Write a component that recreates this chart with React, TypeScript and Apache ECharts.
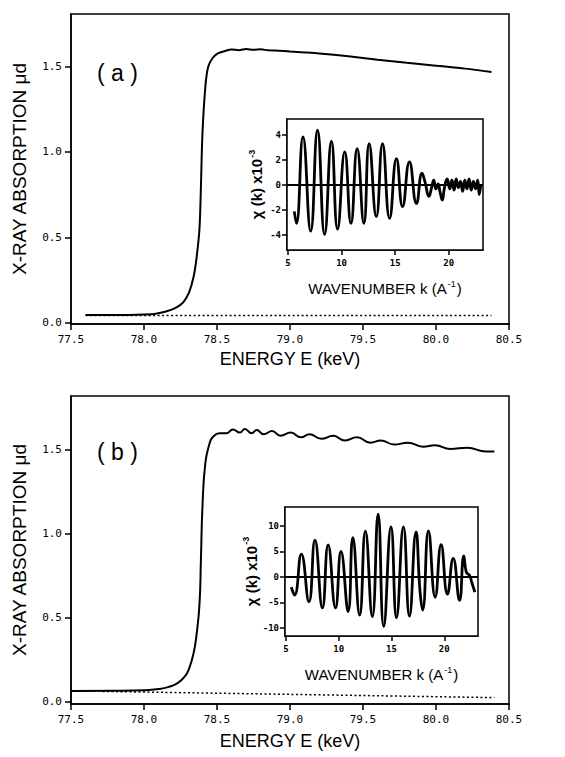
import React, { useEffect, useRef } from "react";
import * as echarts from "echarts";

// ---- Panel (a): main absorption spectrum ----
const energyA = [77.6, 77.8, 78.0, 78.08, 78.15, 78.22, 78.27, 78.31, 78.34, 78.36, 78.38, 78.39, 78.4, 78.42, 78.44, 78.47, 78.5, 78.55, 78.6, 78.65, 78.7, 78.75, 78.8, 78.85, 78.9, 79.0, 79.1, 79.2, 79.4, 79.6, 79.8, 80.0, 80.2, 80.38];
const muA = [0.045, 0.045, 0.048, 0.052, 0.065, 0.088, 0.12, 0.18, 0.27, 0.38, 0.55, 0.8, 1.1, 1.38, 1.5, 1.55, 1.575, 1.59, 1.6, 1.596, 1.603, 1.598, 1.601, 1.595, 1.594, 1.588, 1.583, 1.577, 1.56, 1.54, 1.522, 1.505, 1.488, 1.468];
const bgEnergyA = [77.6, 80.38];
const bgMuA = [0.042, 0.042];

// ---- Panel (b): main absorption spectrum ----
const energyB = [77.5, 77.8, 78.0, 78.1, 78.17, 78.23, 78.28, 78.31, 78.34, 78.36, 78.38, 78.39, 78.4, 78.42, 78.45, 78.47, 78.516, 78.563, 78.609, 78.656, 78.691, 78.737, 78.772, 78.819, 78.877, 78.935, 79.005, 79.075, 79.133, 79.214, 79.296, 79.377, 79.458, 79.551, 79.621, 79.714, 79.807, 79.912, 79.993, 80.098, 80.214, 80.342, 80.4];
const muB = [0.064, 0.065, 0.068, 0.075, 0.088, 0.11, 0.15, 0.2, 0.29, 0.4, 0.58, 0.85, 1.15, 1.42, 1.54, 1.574, 1.598, 1.598, 1.621, 1.602, 1.624, 1.598, 1.617, 1.592, 1.611, 1.583, 1.602, 1.574, 1.592, 1.565, 1.583, 1.555, 1.574, 1.542, 1.555, 1.531, 1.542, 1.518, 1.527, 1.505, 1.512, 1.49, 1.49];
const bgEnergyB = [77.5, 80.4];
const bgMuB = [0.064, 0.024];

// ---- Inset (a): EXAFS chi(k) x 10^-3 ----
const kA = [5.58, 5.78, 6.39, 7.11, 7.75, 8.41, 9.05, 9.62, 10.29, 10.87, 11.45, 12.08, 12.57, 13.24, 13.82, 14.48, 15.12, 15.69, 16.33, 16.99, 17.51, 17.8, 18.15, 18.4, 18.6, 18.8, 19.0, 19.2, 19.4, 19.6, 19.85, 20.1, 20.3, 20.5, 20.7, 20.9, 21.1, 21.3, 21.5, 21.7, 21.9, 22.1, 22.3, 22.5, 22.7, 22.85, 23.0];
const chiA = [-2.1, -3.07, 3.87, -3.68, 4.4, -3.95, 3.52, -3.52, 2.67, -3.07, 2.93, -3.07, 3.33, -2.53, 3.33, -2.67, 2.13, -1.73, 1.87, -1.47, 0.95, 0.2, -0.9, -0.2, 0.4, -0.3, 0.1, -0.6, -1.2, -0.2, 0.5, -0.3, 0.4, -0.4, 0.5, -0.2, 0.3, -0.5, 0.4, -0.3, 0.5, -0.4, 0.3, -0.3, 0.4, -0.75, 0.1];

// ---- Inset (b): EXAFS chi(k) x 10^-3 ----
const kB = [5.5, 5.81, 6.45, 7.17, 7.74, 8.45, 8.99, 9.69, 10.21, 10.89, 11.33, 11.98, 12.52, 13.18, 13.73, 14.26, 14.95, 15.47, 16.13, 16.7, 17.32, 17.7, 17.95, 18.5, 19.14, 19.7, 20.3, 20.85, 21.45, 21.85, 22.1, 22.4, 22.6, 22.9];
const chiB = [-2.0, -3.6, 4.45, -4.9, 7.2, -6.1, 6.26, -6.1, 4.97, -6.8, 7.7, -7.5, 8.97, -7.8, 12.3, -9.7, 9.8, -8.0, 9.8, -7.7, 8.8, -2.8, -6.5, 9.0, -4.0, 6.3, -3.4, 3.6, -4.6, 4.1, 0.9, 0.3, -1.0, -3.0];

// ---- Tick values ----
const mainYTicks = [0, 0.5, 1.0, 1.5];
const insetXTicks = [5, 10, 15, 20];
const insetAYTicks = [-4, -2, 0, 2, 4];
const insetBYTicks = [-10, -5, 0, 5, 10];

const zip = (xs: number[], ys: number[]) => xs.map((x, i) => [x, ys[i]]);

const MONO = "DejaVu Sans Mono";
const SANS = "Liberation Sans, Arial, sans-serif";

function mainXAxis(gridIndex: number, nameGap: number) {
  return {
    type: "value",
    gridIndex,
    min: 77.5,
    max: 80.5,
    interval: 0.5,
    axisLine: { show: true, onZero: false, lineStyle: { color: "#000", width: 1.5 } },
    axisTick: { show: true, inside: false, length: 6, lineStyle: { color: "#000", width: 1.5 } },
    axisLabel: {
      color: "#000",
      fontFamily: MONO,
      fontSize: 11,
      margin: 10,
      formatter: (v: number) => v.toFixed(1),
    },
    splitLine: { show: false },
    name: "ENERGY E (keV)",
    nameLocation: "middle",
    nameGap,
    nameTextStyle: { color: "#000", fontFamily: SANS, fontSize: 18 },
  };
}

function mainYAxis(gridIndex: number, min: number, max: number) {
  return {
    type: "value",
    gridIndex,
    min,
    max,
    axisLine: { show: true, onZero: false, lineStyle: { color: "#000", width: 1.5 } },
    axisTick: { show: true, inside: false, length: 6, customValues: mainYTicks, lineStyle: { color: "#000", width: 1.5 } },
    axisLabel: {
      color: "#000",
      fontFamily: MONO,
      fontSize: 11,
      margin: 9,
      customValues: mainYTicks,
      formatter: (v: number) => v.toFixed(1),
    },
    splitLine: { show: false },
    name: "X-RAY ABSORPTION μd",
    nameLocation: "middle",
    nameGap: 42,
    nameRotate: 90,
    nameTextStyle: { color: "#000", fontFamily: SANS, fontSize: 19 },
  };
}

function insetXAxis(gridIndex: number) {
  return {
    type: "value",
    gridIndex,
    min: 4.9,
    max: 23.2,
    axisLine: { show: true, onZero: false, lineStyle: { color: "#000", width: 1.5 } },
    axisTick: { show: true, inside: false, length: 5, customValues: insetXTicks, lineStyle: { color: "#000", width: 1.5 } },
    axisLabel: {
      color: "#000",
      fontFamily: MONO,
      fontSize: 9,
      fontWeight: "bold",
      margin: 8,
      customValues: insetXTicks,
    },
    splitLine: { show: false },
    name: "WAVENUMBER k (A{sup|-1})",
    nameLocation: "middle",
    nameGap: 29,
    nameTextStyle: {
      color: "#000",
      fontFamily: SANS,
      fontSize: 15,
      rich: { sup: { fontSize: 9, fontFamily: SANS, color: "#000", verticalAlign: "top", padding: [0, 1, 10, 1] } },
    },
  };
}

function insetYAxis(gridIndex: number, min: number, max: number, ticks: number[]) {
  return {
    type: "value",
    gridIndex,
    min,
    max,
    axisLine: { show: true, onZero: false, lineStyle: { color: "#000", width: 1.5 } },
    axisTick: { show: true, inside: false, length: 5, customValues: ticks, lineStyle: { color: "#000", width: 1.5 } },
    axisLabel: {
      color: "#000",
      fontFamily: MONO,
      fontSize: 9,
      fontWeight: "bold",
      margin: 6,
      customValues: ticks,
    },
    splitLine: { show: false },
    name: "χ (k) x10{sup|-3}",
    nameLocation: "middle",
    nameGap: 21,
    nameRotate: 90,
    nameTextStyle: {
      color: "#000",
      fontFamily: SANS,
      fontSize: 15,
      fontWeight: "bold",
      rich: { sup: { fontSize: 9, fontFamily: SANS, color: "#000", padding: [0, 0, 10, 1] } },
    },
  };
}

const zeroLine = {
  silent: true,
  symbol: ["none", "none"],
  label: { show: false },
  lineStyle: { color: "#000", width: 2.2, type: "solid" },
  data: [{ yAxis: 0 }],
};

export default function App() {
  const ref = useRef<HTMLDivElement>(null);

  useEffect(() => {
    document.body.style.margin = "0";
    if (!ref.current) return;
    const chart = echarts.init(ref.current, undefined, { renderer: "svg" });
    const gridBase = { show: true, borderColor: "#000", borderWidth: 1.5, backgroundColor: "#fff", containLabel: false };
    chart.setOption({
      animation: false,
      backgroundColor: "#fff",
      grid: [
        { ...gridBase, left: 71, top: 14, width: 438, height: 310 },
        { ...gridBase, left: 287, top: 119, width: 196, height: 131, z: 5 },
        { ...gridBase, left: 71, top: 396, width: 438, height: 308 },
        { ...gridBase, left: 285, top: 507, width: 193, height: 129, z: 5 },
      ],
      xAxis: [mainXAxis(0, 26), insetXAxis(1), mainXAxis(2, 28), insetXAxis(3)],
      yAxis: [
        mainYAxis(0, -0.008, 1.808),
        insetYAxis(1, -5.2, 5.3, insetAYTicks),
        mainYAxis(2, -0.014, 1.82),
        insetYAxis(3, -11.6, 13.7, insetBYTicks),
      ],
      graphic: [
        { type: "text", left: 97, top: 61, style: { text: "( a )", font: "23px Liberation Sans", fill: "#000" } },
        { type: "text", left: 97, top: 440, style: { text: "( b )", font: "23px Liberation Sans", fill: "#000" } },
      ],
      series: [
        {
          type: "line", xAxisIndex: 0, yAxisIndex: 0, data: zip(energyA, muA), smooth: 0.3,
          showSymbol: false, lineStyle: { color: "#000", width: 2 }, z: 3,
        },
        {
          type: "line", xAxisIndex: 0, yAxisIndex: 0, data: zip(bgEnergyA, bgMuA),
          showSymbol: false, lineStyle: { color: "#000", width: 1.5, type: [2, 2.5] }, z: 2,
        },
        {
          type: "line", xAxisIndex: 1, yAxisIndex: 1, data: zip(kA, chiA), smooth: 0.5,
          showSymbol: false, lineStyle: { color: "#000", width: 2.8 }, z: 6, markLine: zeroLine,
        },
        {
          type: "line", xAxisIndex: 2, yAxisIndex: 2, data: zip(energyB, muB), smooth: 0.5,
          showSymbol: false, lineStyle: { color: "#000", width: 2 }, z: 3,
        },
        {
          type: "line", xAxisIndex: 2, yAxisIndex: 2, data: zip(bgEnergyB, bgMuB),
          showSymbol: false, lineStyle: { color: "#000", width: 1.5, type: [2, 2.5] }, z: 2,
        },
        {
          type: "line", xAxisIndex: 3, yAxisIndex: 3, data: zip(kB, chiB), smooth: 0.5,
          showSymbol: false, lineStyle: { color: "#000", width: 2.8 }, z: 6, markLine: zeroLine,
        },
      ],
    });
    return () => chart.dispose();
  }, []);

  return <div ref={ref} style={{ width: 565, height: 757 }} />;
}
